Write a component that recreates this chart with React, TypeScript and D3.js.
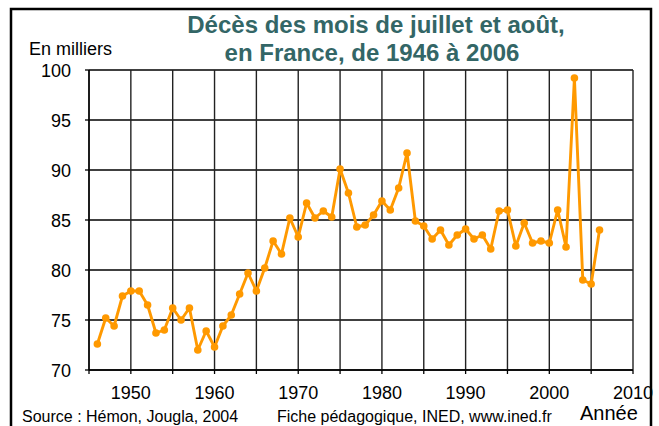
import React from "react";
import * as d3 from "d3";

const years: number[] = d3.range(1946, 2007);
const deaths: number[] = [
  72.6, 75.2, 74.4, 77.4, 77.9, 77.9, 76.5, 73.7, 74.0, 76.2,
  75.0, 76.2, 72.0, 73.9, 72.3, 74.4, 75.5, 77.6, 79.7, 77.9,
  80.2, 82.9, 81.6, 85.2, 83.3, 86.7, 85.2, 85.9, 85.3, 90.1,
  87.7, 84.3, 84.5, 85.5, 86.9, 86.0, 88.2, 91.7, 84.9, 84.4,
  83.1, 84.0, 82.5, 83.5, 84.1, 83.1, 83.5, 82.1, 85.9, 86.0,
  82.4, 84.7, 82.7, 82.9, 82.7, 86.0, 82.3, 99.2, 79.0, 78.6,
  84.0,
];
const yTicks: number[] = [70, 75, 80, 85, 90, 95, 100];
const xGrid: number[] = d3.range(1945, 2011, 5);
const xLabels: number[] = [1950, 1960, 1970, 1980, 1990, 2000, 2010];

const titleLines: string[] = [
  "Décès des mois de juillet et août,",
  "en France, de 1946 à 2006",
];

const W = 659;
const H = 426;
const FONT = "'Liberation Sans', Arial, sans-serif";

export default function App() {
  const x = d3.scaleLinear().domain([1945, 2010]).range([89, 633]);
  const y = d3.scaleLinear().domain([70, 100]).range([370, 70]);
  const data = years.map((yr, i) => ({ yr, v: deaths[i] }));
  const line = d3
    .line<{ yr: number; v: number }>()
    .x((d) => x(d.yr))
    .y((d) => y(d.v));

  return (
    <svg
      width={W}
      height={H}
      style={{ position: "absolute", left: 0, top: 0, display: "block", background: "#fff" }}
      fontFamily={FONT}
    >
      <rect x={0} y={0} width={W} height={H} fill="#fff" />
      {/* outer frame */}
      <rect x={11} y={9} width={640} height={440} fill="none" stroke="#000" strokeWidth={2.5} />

      {/* grid */}
      {yTicks.map((t) => (
        <line key={"h" + t} x1={x(1945)} x2={x(2010)} y1={y(t)} y2={y(t)} stroke="#000" strokeWidth={1.4} />
      ))}
      {xGrid.map((t) => (
        <line key={"v" + t} x1={x(t)} x2={x(t)} y1={y(100)} y2={y(70)} stroke="#222" strokeWidth={1.4} />
      ))}
      {/* axes */}
      <line x1={x(1945)} x2={x(1945)} y1={y(100)} y2={y(70)} stroke="#000" strokeWidth={1.4} />
      <line x1={x(1945)} x2={x(2010)} y1={y(70)} y2={y(70)} stroke="#000" strokeWidth={1.4} />
      {yTicks.map((t) => (
        <line key={"yt" + t} x1={x(1945) - 4} x2={x(1945)} y1={y(t)} y2={y(t)} stroke="#000" strokeWidth={1.3} />
      ))}
      {xGrid.map((t) => (
        <line key={"xt" + t} x1={x(t)} x2={x(t)} y1={y(70)} y2={y(70) + 4} stroke="#000" strokeWidth={1.3} />
      ))}

      {/* y labels */}
      {yTicks.map((t) => (
        <text key={"yl" + t} x={71} y={y(t) + 6.5} textAnchor="end" fontSize={18} fill="#000">
          {t}
        </text>
      ))}
      {/* x labels */}
      {xLabels.map((t) => (
        <text key={"xl" + t} x={x(t)} y={399} textAnchor="middle" fontSize={18} fill="#000">
          {t}
        </text>
      ))}

      {/* series */}
      <path d={line(data) || ""} fill="none" stroke="#FF9900" strokeWidth={2.9} strokeLinejoin="round" />
      {data.map((d) => (
        <circle key={d.yr} cx={x(d.yr)} cy={y(d.v)} r={3.8} fill="#FF9900" />
      ))}

      {/* title */}
      <text x={376} y={33} textAnchor="middle" fontSize={24} fontWeight="bold" fill="#336666">
        {titleLines[0]}
      </text>
      <text x={372} y={61} textAnchor="middle" fontSize={24} fontWeight="bold" fill="#336666">
        {titleLines[1]}
      </text>

      <text x={29} y={55} fontSize={18} fill="#000">En milliers</text>

      <text x={22} y={422} fontSize={16} fill="#000">Source : Hémon, Jougla, 2004</text>
      <text x={277} y={422} fontSize={16} fill="#000">Fiche pédagogique, INED, www.ined.fr</text>
      <text x={580} y={420} fontSize={20} fill="#000">Année</text>
    </svg>
  );
}
